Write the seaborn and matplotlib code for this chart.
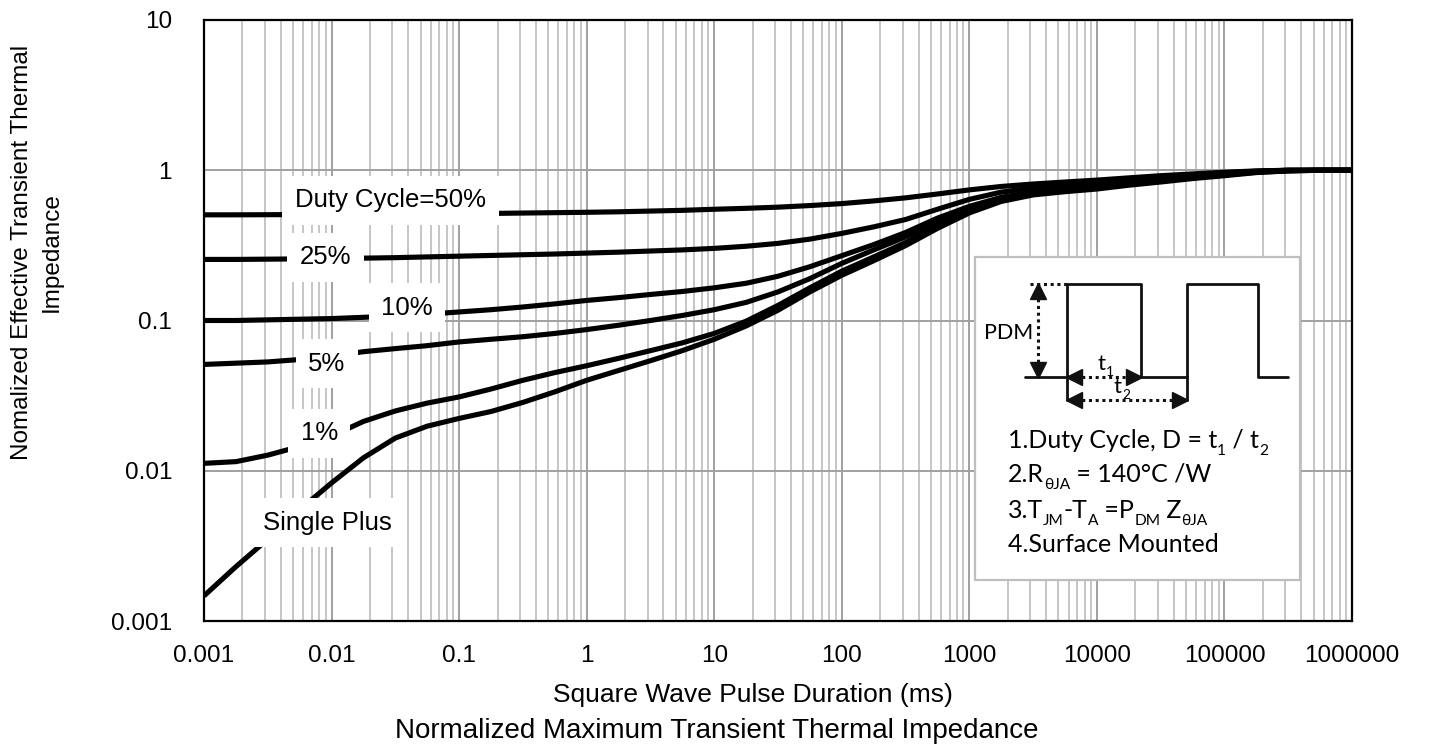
import numpy as np
import pandas as pd
import seaborn as sns
import matplotlib
matplotlib.use("Agg")
import matplotlib.pyplot as plt
from matplotlib.ticker import FixedLocator, LogLocator, NullFormatter, NullLocator
from matplotlib.patches import Rectangle
from matplotlib.transforms import offset_copy

# ---------------- data ----------------
pulse_ms = [0.001, 0.00178, 0.00316, 0.00562, 0.01, 0.0178, 0.0316, 0.0562,
            0.1, 0.178, 0.316, 0.562, 1, 1.78, 3.16, 5.62,
            10, 17.8, 31.6, 56.2, 100, 178, 316, 562,
            1000, 1778, 3162, 5623, 1e4, 1.78e4, 3.16e4, 5.62e4,
            1e5, 1.78e5, 3.16e5, 5.62e5, 1e6]

z_d50 = [0.505, 0.505, 0.506, 0.507, 0.508, 0.509, 0.510, 0.512,
         0.514, 0.516, 0.519, 0.522, 0.525, 0.529, 0.535, 0.541,
         0.55, 0.558, 0.568, 0.582, 0.60, 0.625, 0.655, 0.695,
         0.74, 0.78, 0.81, 0.835, 0.86, 0.89, 0.92, 0.945,
         0.97, 0.99, 1.0, 1.0, 1.0]
z_d25 = [0.255, 0.255, 0.256, 0.257, 0.258, 0.260, 0.262, 0.265,
         0.268, 0.271, 0.274, 0.277, 0.281, 0.285, 0.290, 0.295,
         0.302, 0.312, 0.326, 0.348, 0.38, 0.42, 0.47, 0.55,
         0.64, 0.715, 0.765, 0.80, 0.83, 0.865, 0.895, 0.93,
         0.96, 0.985, 1.0, 1.0, 1.0]
z_d10 = [0.100, 0.100, 0.101, 0.102, 0.103, 0.105, 0.107, 0.110,
         0.114, 0.118, 0.123, 0.129, 0.136, 0.142, 0.149, 0.156,
         0.165, 0.177, 0.197, 0.228, 0.27, 0.32, 0.385, 0.48,
         0.575, 0.66, 0.72, 0.76, 0.795, 0.835, 0.87, 0.91,
         0.945, 0.98, 1.0, 1.0, 1.0]
z_d05 = [0.051, 0.052, 0.053, 0.055, 0.058, 0.062, 0.065, 0.068,
         0.072, 0.075, 0.078, 0.082, 0.087, 0.093, 0.100, 0.108,
         0.118, 0.132, 0.155, 0.19, 0.24, 0.295, 0.36, 0.45,
         0.555, 0.645, 0.705, 0.745, 0.78, 0.825, 0.86, 0.90,
         0.94, 0.975, 0.995, 1.0, 1.0]
z_d01 = [0.0112, 0.0115, 0.0127, 0.0145, 0.0170, 0.0213, 0.0250, 0.0282,
         0.031, 0.035, 0.040, 0.045, 0.050, 0.056, 0.063, 0.071,
         0.082, 0.099, 0.126, 0.165, 0.213, 0.265, 0.33, 0.425,
         0.535, 0.63, 0.695, 0.735, 0.765, 0.81, 0.85, 0.89,
         0.93, 0.97, 0.99, 1.0, 1.0]
z_single = [0.00147, 0.0023, 0.0035, 0.0055, 0.0083, 0.0122, 0.0165, 0.0198,
            0.0223, 0.0248, 0.0285, 0.0335, 0.040, 0.0465, 0.054, 0.063,
            0.075, 0.092, 0.117, 0.155, 0.20, 0.25, 0.315, 0.41,
            0.52, 0.62, 0.685, 0.72, 0.75, 0.795, 0.835, 0.88,
            0.92, 0.965, 0.99, 1.0, 1.0]

series_names = ["Duty Cycle=50%", "25%", "10%", "5%", "1%", "Single Plus"]
series_values = [z_d50, z_d25, z_d10, z_d05, z_d01, z_single]
# label anchor positions (x in ms, y in normalized impedance)
label_x = [0.029, 0.0090, 0.039, 0.0092, 0.0080, 0.0093]
label_y = [0.63, 0.263, 0.122, 0.0517, 0.0177, 0.0045]

x_ticks = [0.001, 0.01, 0.1, 1, 10, 100, 1000, 10000, 100000, 1000000]
x_tick_labels = ["0.001", "0.01", "0.1", "1", "10", "100", "1000", "10000", "100000", "1000000"]
y_ticks = [0.001, 0.01, 0.1, 1, 10]
y_tick_labels = ["0.001", "0.01", "0.1", "1", "10"]

x_label = "Square Wave Pulse Duration (ms)"
y_label = "Nomalized Effective Transient Thermal\nImpedance"
title = "Normalized Maximum Transient Thermal Impedance"

# ---------------- figure ----------------
sns.set_theme(style="white")
plt.rcParams["font.family"] = ["Liberation Sans", "DejaVu Sans"]
plt.rcParams["text.color"] = "black"
plt.rcParams["xtick.color"] = "black"
plt.rcParams["ytick.color"] = "black"
plt.rcParams["axes.labelcolor"] = "black"

W, H = 1437, 751
fig = plt.figure(figsize=(W / 100, H / 100), dpi=100)
L, R, T, B = 204, 1352, 20, 621
ax = fig.add_axes([L / W, (H - B) / H, (R - L) / W, (B - T) / H])

df = pd.concat([pd.DataFrame({"t": pulse_ms, "z": v, "series": n})
                for n, v in zip(series_names, series_values)], ignore_index=True)
for n in series_names:
    sub = df[df["series"] == n]
    sns.lineplot(data=sub, x="t", y="z", ax=ax, color="black", lw=3.7,
                 estimator=None, sort=False, zorder=3, legend=False)
for ln in ax.get_lines():
    ln.set_solid_joinstyle("round")
    ln.set_solid_capstyle("butt")

ax.set_xscale("log")
ax.set_yscale("log")
ax.set_xlim(0.001, 1e6)
ax.set_ylim(0.001, 10)
ax.xaxis.set_major_locator(FixedLocator(x_ticks))
ax.set_xticks(x_ticks, x_tick_labels)
ax.xaxis.set_minor_locator(LogLocator(base=10, subs=np.arange(2, 10), numticks=100))
ax.xaxis.set_minor_formatter(NullFormatter())
ax.set_yticks(y_ticks, y_tick_labels)
ax.yaxis.set_minor_locator(NullLocator())
ax.tick_params(axis="both", which="both", length=0, labelsize=17.5, colors="black")
ax.tick_params(axis="x", pad=17)
ax.tick_params(axis="y", pad=23)
ax.grid(which="major", axis="both", color="#a0a0a0", lw=1.4, zorder=0)
ax.grid(which="minor", axis="x", color="#c6c6c6", lw=1.4, zorder=0)
ax.set_axisbelow(True)
for s in ax.spines.values():
    s.set_color("black")
    s.set_linewidth(1.6)
ax.set_xlabel("")
ax.set_ylabel("")

for n, lx, ly in zip(series_names, label_x, label_y):
    ax.text(lx, ly, n, fontsize=18.5, ha="center", va="center", zorder=4, color="black",
            bbox=dict(facecolor="white", edgecolor="none", pad=9))

fig.text(753 / W, 1 - 695 / H, x_label, fontsize=19, ha="center", va="center", color="black")
fig.text(717 / W, 1 - 731 / H, title, fontsize=20, ha="center", va="center", color="black")
fig.text(37 / W, 1 - 252 / H, y_label, fontsize=17.5, ha="center", va="center", color="black",
         rotation=90, linespacing=1.45, multialignment="center")

# ---------------- inset diagram (axes-fraction coordinates) ----------------
def fx(px):
    return (px - L) / (R - L)

def fy(py):
    return (B - py) / (B - T)

ta = ax.transAxes
ax.add_patch(Rectangle((fx(975), fy(580)), fx(1300) - fx(975), fy(257) - fy(580),
                       transform=ta, facecolor="white", edgecolor="#bfbfbf", lw=1.6, zorder=5))

wx = [1025, 1067, 1067, 1141, 1141, 1187, 1187, 1258, 1258, 1288]
wy = [377, 377, 284, 284, 377, 377, 284, 284, 377, 377]
ax.plot([fx(v) for v in wx], [fy(v) for v in wy], transform=ta, color="#111111", lw=2.0, zorder=6)
for xx in (1067, 1187):
    ax.plot([fx(xx), fx(xx)], [fy(377), fy(400)], transform=ta, color="#111111", lw=2.0, zorder=6)

dot = dict(transform=ta, color="#111111", lw=2.2, ls=(0, (1, 1.2)), zorder=6)
ax.plot([fx(1030), fx(1067)], [fy(284), fy(284)], **dot)
# PDM arrow
ax.plot([fx(1038), fx(1038)], [fy(292), fy(369)], **dot)
ax.plot([fx(1038)], [fy(291)], marker="^", ms=11, color="#111111", transform=ta, zorder=7)
ax.plot([fx(1038)], [fy(370)], marker="v", ms=11, color="#111111", transform=ta, zorder=7)
# t1 arrow
ax.plot([fx(1075), fx(1133)], [fy(377), fy(377)], **dot)
ax.plot([fx(1074)], [fy(377)], marker="<", ms=11, color="#111111", transform=ta, zorder=7)
ax.plot([fx(1134)], [fy(377)], marker=">", ms=11, color="#111111", transform=ta, zorder=7)
# t2 arrow
ax.plot([fx(1075), fx(1179)], [fy(400), fy(400)], **dot)
ax.plot([fx(1074)], [fy(400)], marker="<", ms=11, color="#111111", transform=ta, zorder=7)
ax.plot([fx(1180)], [fy(400)], marker=">", ms=11, color="#111111", transform=ta, zorder=7)

inset_font = ["Lato", "DejaVu Sans"]
ax.text(fx(1033), fy(333), "PDM", transform=ta, fontsize=15.5, ha="right", va="center",
        family=inset_font, zorder=7, color="black")

fig.canvas.draw()
renderer = fig.canvas.get_renderer()


def rich(px, py, pieces, size):
    off = 0.0
    for s, is_sub in pieces:
        fs = size * 0.62 if is_sub else size
        dy = -size * 0.28 if is_sub else 0.0
        tr = offset_copy(ta, fig=fig, x=off, y=dy * 100 / 72, units="dots")
        t = ax.text(fx(px), fy(py), s, transform=tr, fontsize=fs, ha="left", color="black",
                    va="baseline", family=inset_font, zorder=7)
        off += t.get_window_extent(renderer).width


rich(1098, 370, [("t", False), ("1", True)], 16)
rich(1114, 393, [("t", False), ("2", True)], 16)
fs_in = 18
rich(1008, 448, [("1.Duty Cycle, D = t", False), ("1", True), (" / t", False), ("2", True)], fs_in)
rich(1008, 482, [("2.R", False), ("θJA", True), (" = 140°C /W", False)], fs_in)
rich(1008, 518, [("3.T", False), ("JM", True), ("-T", False), ("A", True), (" =P", False),
                 ("DM", True), (" Z", False), ("θJA", True)], fs_in)
rich(1008, 552, [("4.Surface Mounted", False)], fs_in)

fig.savefig("out.png", dpi=100)
